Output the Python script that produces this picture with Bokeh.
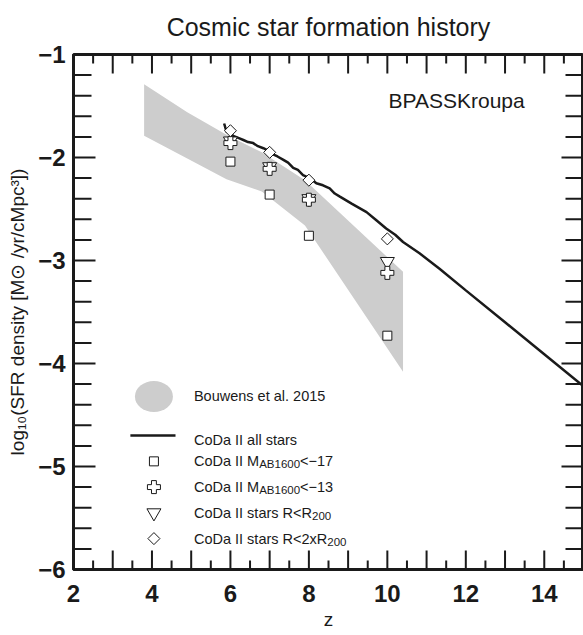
import numpy as np
from bokeh.plotting import figure
from bokeh.models import FixedTicker, LinearAxis, Label, Range1d
from bokeh.embed import file_html
from bokeh.resources import INLINE

# ---------------- data ----------------
coda_all_z = [5.84, 5.90, 6.00, 6.07, 6.20, 6.33, 6.45, 6.58, 6.70, 6.84, 6.95, 7.09, 7.20, 7.34,
              7.47, 7.60, 7.72, 7.85, 8.02, 8.19, 8.36, 8.53, 8.66, 8.79, 9.10, 9.47, 9.72,
              9.97, 10.20, 10.40, 10.82, 11.33, 12.0, 13.0, 14.0, 15.0]
coda_all_sfr = [-1.67, -1.75, -1.76, -1.79, -1.81, -1.83, -1.85, -1.86, -1.89, -1.91, -1.93, -1.97,
                -1.99, -2.02, -2.05, -2.10, -2.12, -2.17, -2.20, -2.25, -2.27, -2.30, -2.35, -2.38,
                -2.45, -2.53, -2.61, -2.69, -2.75, -2.82, -2.93, -3.08, -3.29, -3.60, -3.91, -4.22]

bouwens_z = [3.8, 4.9, 5.9, 6.8, 7.9, 10.4]
bouwens_hi = [-1.29, -1.56, -1.78, -1.95, -2.22, -3.11]
bouwens_lo = [-1.79, -2.01, -2.21, -2.33, -2.66, -4.08]

coda_z = [6, 7, 8, 10]
mag17 = [-2.04, -2.36, -2.76, -3.73]
mag13 = [-1.86, -2.11, -2.41, -3.12]
r200 = [-1.84, -2.09, -2.40, -3.01]
r2x200 = [-1.74, -1.95, -2.22, -2.79]

x_lo, x_hi = 2, 15
y_lo, y_hi = -6, -1
x_major = list(range(2, 16))
x_minor = [v + 0.5 for v in range(2, 15)]
x_labels = {v: (str(v) if v % 2 == 0 else "") for v in x_major}
y_major = [-6, -5, -4, -3, -2, -1]
y_minor = [round(-6 + 0.2 * i, 1) for i in range(26) if i % 5 != 0]
y_labels = {v: "\u2212" + str(-v) for v in y_major}

# legend rows (data positions of the key)
leg_mark_x = 4.05
leg_text_x = 5.07
leg_y = {"band": -4.32, "line": -4.70, "sq": -4.95, "plus": -5.20, "tri": -5.45, "dia": -5.70}

FONT = "Liberation Sans"
INK = "#1a1a1a"
BAND = "#cdcdcd"

p = figure(width=583, height=635, x_range=Range1d(x_lo, x_hi), y_range=Range1d(y_lo, y_hi),
           output_backend="svg", toolbar_location=None,
           x_axis_location=None, y_axis_location=None,
           min_border_left=73, min_border_right=0, min_border_top=54, min_border_bottom=66)
p.grid.grid_line_color = None
p.grid.visible = False
p.outline_line_color = INK
p.outline_line_width = 3
p.background_fill_color = "white"
p.border_fill_color = "white"

p.title.text = "Cosmic star formation history"
p.title.align = "center"
p.title.vertical_align = "top"
p.title.text_font = FONT
p.title.text_font_size = "25px"
p.title.text_font_style = "normal"
p.title.text_color = INK
p.title.standoff = 24


def style_axis(ax):
    ax.axis_line_width = 3
    ax.axis_line_color = INK
    ax.major_tick_in = 0
    ax.major_tick_out = 0
    ax.minor_tick_in = 0
    ax.minor_tick_out = 0
    ax.major_label_text_font = FONT
    ax.major_label_text_font_style = "bold"
    ax.major_label_text_font_size = "24px"
    ax.major_label_text_color = INK
    ax.axis_label_text_font = FONT
    ax.axis_label_text_font_style = "normal"
    ax.axis_label_text_font_size = "19px"
    ax.axis_label_text_color = INK


xb = LinearAxis(ticker=FixedTicker(ticks=x_major, minor_ticks=x_minor),
                major_label_overrides=x_labels, axis_label="z")
style_axis(xb)
xb.major_label_standoff = 15
xb.axis_label_standoff = 4
p.add_layout(xb, "below")

yl = LinearAxis(ticker=FixedTicker(ticks=y_major, minor_ticks=y_minor),
                major_label_overrides=y_labels,
                axis_label="log\u2081\u2080(SFR density [M\u2299 /yr/cMpc\u00b3])")
style_axis(yl)
yl.major_label_standoff = 8
yl.axis_label_standoff = 7
p.add_layout(yl, "left")

# ---------------- inward ticks (dash markers centred on the frame, clipped by it) ----------------
tk = dict(marker="dash", line_color=INK, line_width=2)
for yy in (y_lo, y_hi):
    p.scatter(x_major, [yy] * len(x_major), angle=np.pi / 2, size=38, **tk)
    p.scatter(x_minor, [yy] * len(x_minor), angle=np.pi / 2, size=18, **tk)
for xx in (x_lo, x_hi):
    p.scatter([xx] * len(y_major), y_major, size=44, **tk)
    p.scatter([xx] * len(y_minor), y_minor, size=36, **tk)

# ---------------- data marks ----------------
p.varea(x=bouwens_z, y1=bouwens_lo, y2=bouwens_hi, fill_color=BAND)
p.line(coda_all_z, coda_all_sfr, line_color=INK, line_width=2.5)

mk = dict(fill_color="white", line_color=INK, line_width=1)
p.scatter(coda_z, mag17, marker="square", size=9, **mk)
p.scatter(coda_z, r200, marker="inverted_triangle", size=14, **mk)
p.scatter(coda_z, mag13, marker="plus", size=13, **mk)
p.scatter(coda_z, r2x200, marker="square", angle=np.pi / 4, size=8.5, **mk)

# BPASS label
p.add_layout(Label(x=10.03, y=-1.45, text="BPASSKroupa", text_font=FONT,
                   text_font_size="21px", text_color=INK, text_baseline="middle"))

# ---------------- legend ----------------
p.ellipse(x=[leg_mark_x], y=[leg_y["band"]], width=38, height=31,
          width_units="screen", height_units="screen", fill_color=BAND, line_color=None)
p.line([leg_mark_x - 0.6, leg_mark_x + 0.55], [leg_y["line"], leg_y["line"]],
       line_color=INK, line_width=2.5)
p.scatter([leg_mark_x], [leg_y["sq"]], marker="square", size=9, **mk)
p.scatter([leg_mark_x], [leg_y["plus"]], marker="plus", size=13, **mk)
p.scatter([leg_mark_x], [leg_y["tri"]], marker="inverted_triangle", size=14, **mk)
p.scatter([leg_mark_x], [leg_y["dia"]], marker="square", angle=np.pi / 4, size=8.5, **mk)

# Helvetica/Arial advance widths (per 1000 em)
W = {" ": 278, "C": 722, "o": 556, "D": 722, "a": 556, "I": 278, "M": 833, "A": 667,
     "B": 667, "0": 556, "1": 556, "2": 556, "3": 556, "6": 556, "7": 556, "<": 584,
     "\u2212": 584, "s": 500, "t": 278, "r": 333, "R": 722, "x": 500, "l": 222}


def tw(s, size):
    return sum(W.get(c, 556) for c in s) * size / 1000.0


def rich(y, segments):
    off = 0.0
    for txt, size, dy in segments:
        p.add_layout(Label(x=leg_text_x, y=y, x_offset=off, y_offset=dy, text=txt,
                           text_font=FONT, text_font_size=f"{size}px", text_color=INK,
                           text_baseline="middle"))
        off += tw(txt, size)


rich(leg_y["band"], [("Bouwens et al. 2015", 14.5, 0)])
rich(leg_y["line"] - 0.04, [("CoDa II all stars", 14.5, 0)])
rich(leg_y["sq"], [("CoDa II M", 14.5, 0), ("AB1600", 11.5, -3), ("<\u221217", 14.5, 0)])
rich(leg_y["plus"], [("CoDa II M", 14.5, 0), ("AB1600", 11.5, -3), ("<\u221213", 14.5, 0)])
rich(leg_y["tri"], [("CoDa II stars R<R", 14.5, 0), ("200", 11.5, -3)])
rich(leg_y["dia"], [("CoDa II stars R<2xR", 14.5, 0), ("200", 11.5, -3)])

open("out.html", "w").write(file_html(p, INLINE))
